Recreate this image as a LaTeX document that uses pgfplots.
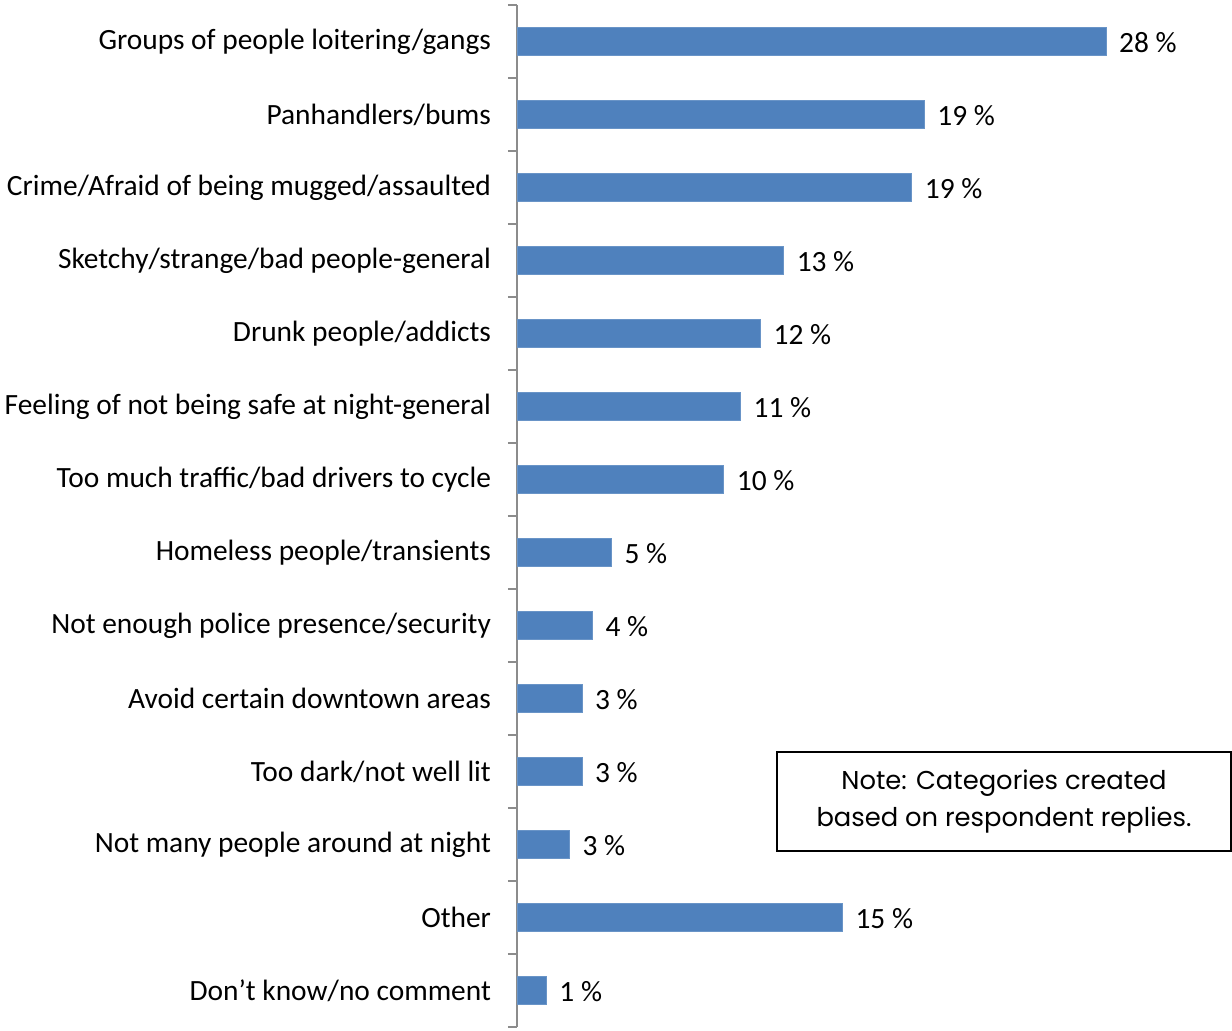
\documentclass[border=0pt]{standalone}
\usepackage{pgfplots}
\pgfplotsset{compat=1.18}
\usepackage{fontspec}
\setmainfont{Carlito}
\newfontfamily\notefont{Poppins}
\definecolor{barblue}{HTML}{4F81BD}
\definecolor{axisgray}{HTML}{8C8C8C}

\begin{document}
\begin{tikzpicture}[x=1pt,y=1pt]
\begin{axis}[
  at={(258.5pt,1.5pt)}, anchor=south west,
  scale only axis, width=315pt, height=511pt,
  xmin=0, xmax=30, ymin=-0.5, ymax=13.5,
  y dir=reverse,
  xbar, bar width=14pt,
  axis x line=none, axis y line=left,
  y axis line style={axisgray, -, line width=0.8pt},
  ytick={0,...,13},
  yticklabels={Groups of people loitering/gangs, Panhandlers/bums,
    Crime/Afraid of being mugged/assaulted, Sketchy/strange/bad people-general,
    Drunk people/addicts, Feeling of not being safe at night-general,
    Too much traffic/bad drivers to cycle, Homeless people/transients,
    Not enough police presence/security, Avoid certain downtown areas,
    Too dark/not well lit, Not many people around at night, Other,
    Don’t know/no comment},
  major tick length=0pt,
  minor ytick={-0.5,0.5,...,13.5},
  minor tick length=4.5pt, tick align=outside,
  minor tick style={axisgray, line width=0.8pt},
  yticklabel style={font=\fontsize{14.7}{17}\selectfont, xshift=-9.5pt},
  point meta=explicit symbolic,
  nodes near coords,
  nodes near coords style={font=\fontsize{14.7}{17}\selectfont, anchor=west, xshift=3pt, yshift=-0.5pt},
  clip=false,
]
\addplot[fill=barblue, draw=barblue!85!white] coordinates {
  (28.05,0) [28 \%]
  (19.4,1) [19 \%]
  (18.8,2) [19 \%]
  (12.7,3) [13 \%]
  (11.6,4) [12 \%]
  (10.65,5) [11 \%]
  (9.85,6) [10 \%]
  (4.5,7) [5 \%]
  (3.6,8) [4 \%]
  (3.1,9) [3 \%]
  (3.1,10) [3 \%]
  (2.5,11) [3 \%]
  (15.5,12) [15 \%]
  (1.4,13) [1 \%]
};
\end{axis}
\pgfresetboundingbox
\useasboundingbox (0,0) rectangle (616,515);
\node[draw, line width=0.6pt, align=center, minimum width=227pt, minimum height=49.5pt,
  font=\notefont\fontsize{12.9}{18.5}\selectfont] at (502,114.25)
  {Note: Categories created\\based on respondent replies.};
\end{tikzpicture}
\end{document}
